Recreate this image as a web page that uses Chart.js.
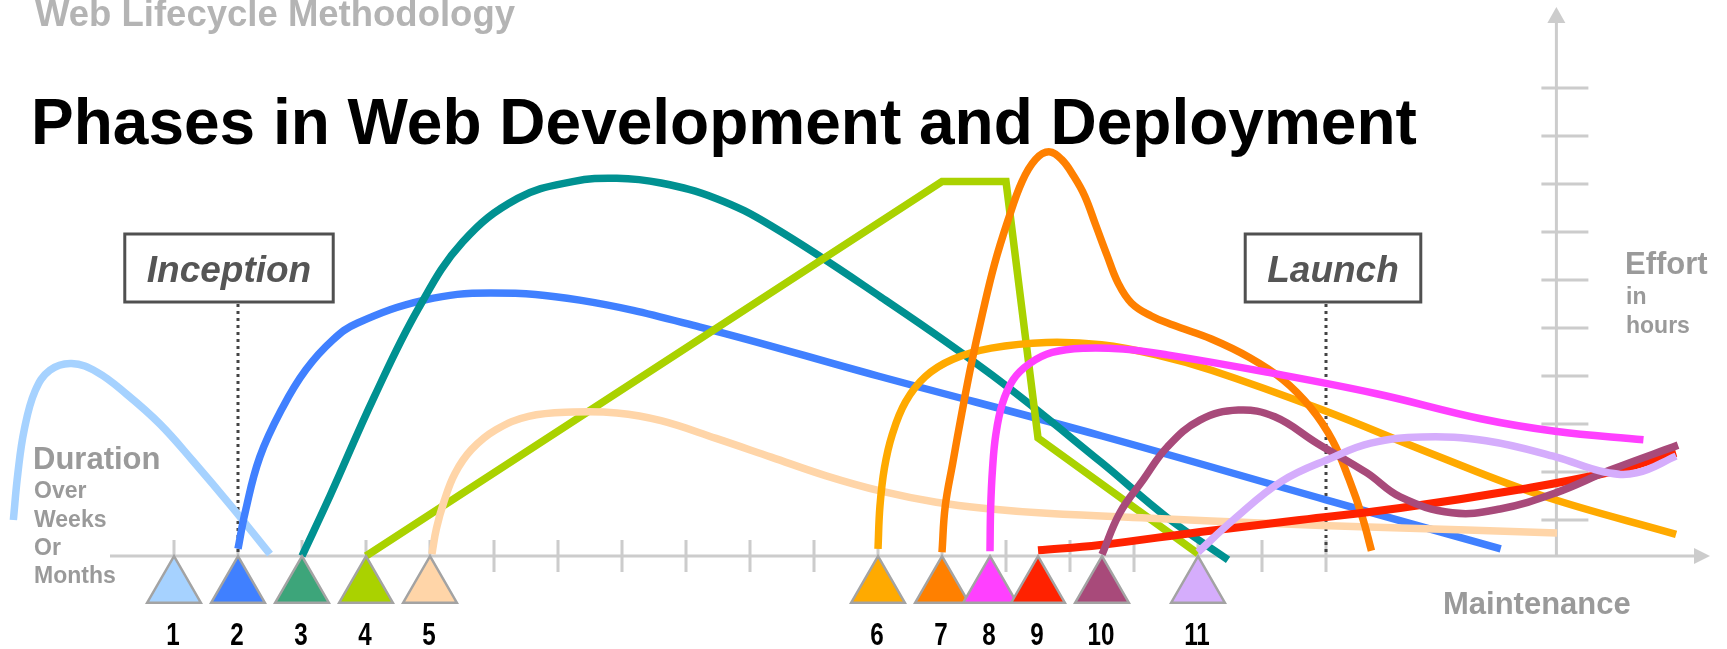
<!DOCTYPE html>
<html>
<head>
<meta charset="utf-8">
<title>Phases in Web Development and Deployment</title>
<script src="https://cdn.jsdelivr.net/npm/chart.js@4.4.0/dist/chart.umd.min.js"></script>
<style>
  html, body { margin: 0; padding: 0; background: #fff; }
  #wrap { position: relative; width: 1727px; height: 649px; overflow: hidden;
          font-family: "Liberation Sans", Arial, sans-serif; font-weight: bold; }
  #chart { position: absolute; left: 0; top: 0; }
  .lbl { position: absolute; line-height: 1; white-space: nowrap; }
  .gray { color: #9a9a9a; }
  .big { font-size: 31px; }
  .small { font-size: 23px; }
</style>
</head>
<body>
<div id="wrap">
  <canvas id="chart" width="1727" height="649"></canvas>
  <div class="lbl" style="left:35px;top:-4px;font-size:36.5px;color:#b4b4b4">Web Lifecycle Methodology</div>
  <div class="lbl" style="left:31px;top:90px;font-size:64px;color:#000">Phases in Web Development and Deployment</div>

  <div class="lbl gray big" style="left:33px;top:443px">Duration</div>
  <div class="lbl gray small" style="left:34px;top:479px">Over</div>
  <div class="lbl gray small" style="left:34px;top:508px">Weeks</div>
  <div class="lbl gray small" style="left:34px;top:536px">Or</div>
  <div class="lbl gray small" style="left:34px;top:564px">Months</div>

  <div class="lbl gray big" style="left:1625px;top:248px">Effort</div>
  <div class="lbl gray small" style="left:1626px;top:285px">in</div>
  <div class="lbl gray small" style="left:1626px;top:314px">hours</div>

  <div class="lbl gray big" style="left:1443px;top:588px">Maintenance</div>
</div>
<script>
// x = time in weeks (one tick per week), y = effort units (x axis at 0)
const phaseLabels = ["1", "2", "3", "4", "5", "6", "7", "8", "9", "10", "11"];
const phaseStart = [0, 1, 2, 3, 4, 11, 12, 12.75, 13.5, 14.5, 16];
const phaseColors = ["#a6d2ff", "#4080ff", "#009191", "#aad200", "#ffd5a8", "#ffaa00",
                     "#ff8000", "#ff40ff", "#ff2200", "#a84a7a", "#d5adfc"];
const markerColors = ["#a6d2ff", "#4080ff", "#3da57a", "#aad200", "#ffd5a8", "#ffaa00",
                      "#ff8000", "#ff40ff", "#ff2200", "#a84a7a", "#d5adfc"];
const xTicks = [0, 1, 2, 3, 4, 5, 6, 7, 8, 9, 10, 11, 12, 13, 14, 15, 16, 17, 18];
const yTicks = [0.75, 1.75, 2.75, 3.75, 4.75, 5.75, 6.75, 7.75, 8.75, 9.75];
const milestoneNames = ["Inception", "Launch"];
const milestoneAt = [1, 18];

// effort curve of each phase, [week, effort]
const phase1 = [[-2.51, 0.75], [-2.44, 1.72], [-2.34, 2.63], [-2.17, 3.44], [-1.94, 3.87], [-1.6, 4.01],
                [-1.2, 3.83], [-0.74, 3.37], [-0.22, 2.75], [0.29, 1.99], [0.9, 1.03], [1.5, 0.04]];
const phase2 = [[1.0, 0.15], [1.11, 0.9], [1.34, 2.06], [1.7, 3.1], [2.06, 3.88], [2.48, 4.5],
                [2.86, 4.85], [3.91, 5.33], [4.95, 5.48], [6.34, 5.33], [8.22, 4.77], [11.0, 3.75],
                [14.5, 2.5], [18.0, 1.17], [20.73, 0.15]];
const phase3 = [[2.0, 0.0], [2.44, 1.26], [3.13, 3.32], [3.82, 5.16], [4.51, 6.54], [5.37, 7.45],
                [6.23, 7.8], [6.92, 7.87], [7.61, 7.77], [8.47, 7.45], [9.33, 6.88], [11.05, 5.39],
                [12.77, 3.78], [14.49, 1.95], [15.52, 0.8], [16.47, -0.08]];
const phase4 = [[3.0, 0.0], [12.0, 7.8], [13.0, 7.8], [13.5, 2.46], [16.0, 0.05]];
const phase5 = [[4.03, 0.04], [4.1, 0.57], [4.22, 1.14], [4.39, 1.72], [4.65, 2.22], [5.03, 2.63],
                [5.54, 2.91], [6.23, 3.0], [6.92, 2.98], [7.61, 2.82], [8.47, 2.45], [9.33, 2.06],
                [10.19, 1.67], [11.05, 1.35], [11.91, 1.12], [12.77, 0.98], [13.63, 0.89],
                [15.35, 0.78], [17.07, 0.68], [18.79, 0.6], [21.61, 0.48]];
const phase6 = [[11.0, 0.15], [11.03, 1.03], [11.1, 1.83], [11.22, 2.52], [11.43, 3.21], [11.74, 3.74],
                [12.17, 4.1], [12.77, 4.33], [13.63, 4.45], [14.49, 4.4], [15.35, 4.19], [16.21, 3.87],
                [17.93, 3.05], [19.65, 2.13], [21.37, 1.26], [23.47, 0.45]];
const phase7 = [[12.0, 0.08], [12.05, 1.03], [12.17, 1.95], [12.31, 2.98], [12.46, 4.01], [12.63, 5.04],
                [12.82, 6.08], [13.03, 6.99], [13.25, 7.8], [13.46, 8.26], [13.67, 8.42], [13.87, 8.26],
                [14.06, 7.91], [14.23, 7.5], [14.4, 6.9], [14.58, 6.26], [14.75, 5.69], [14.96, 5.27],
                [15.27, 5.0], [15.61, 4.81], [16.21, 4.52], [16.81, 4.13], [17.33, 3.67], [17.76, 3.09],
                [18.1, 2.41], [18.36, 1.6], [18.57, 0.8], [18.71, 0.11]];
const phase8 = [[12.75, 0.1], [12.76, 1.0], [12.79, 1.83], [12.84, 2.52], [12.94, 3.16], [13.11, 3.67],
                [13.37, 4.01], [13.72, 4.24], [14.23, 4.33], [14.83, 4.31], [15.52, 4.19], [17.07, 3.83],
                [18.79, 3.38], [20.42, 2.86], [21.58, 2.6], [22.96, 2.42]];
const phase9 = [[13.5, 0.12], [14.47, 0.23], [16.03, 0.5], [17.59, 0.75], [19.16, 1.0], [21.0, 1.38],
                [22.44, 1.75], [23.47, 2.15]];
const phase10 = [[14.5, 0.03], [14.78, 0.9], [15.14, 1.58], [15.52, 2.27], [16.03, 2.83], [16.63, 3.04],
                 [17.2, 2.9], [17.86, 2.35], [18.64, 1.73], [19.16, 1.23], [19.97, 0.9], [20.72, 0.98],
                 [21.58, 1.31], [22.44, 1.79], [23.5, 2.31]];
const phase11 = [[16.0, 0.08], [16.55, 0.75], [17.3, 1.55], [18.1, 2.05], [18.7, 2.35], [19.5, 2.48],
                 [20.5, 2.4], [21.6, 2.06], [22.35, 1.75], [22.85, 1.73], [23.47, 2.08]];
const phases = [phase1, phase2, phase3, phase4, phase5, phase6, phase7, phase8, phase9, phase10, phase11];

const markerLevel = -0.65;   // triangles hang just under the time axis
const timeAxisFrom = -1, timeAxisTo = 24;
const effortAxisAt = 21.6, effortAxisTop = 11.44;

const FONT = "'Liberation Sans', Arial, sans-serif";

const sketch = {
  id: "sketch",
  beforeDatasetsDraw(chart) {
    const { ctx, scales: { x, y } } = chart;
    const y0 = y.getPixelForValue(0);
    ctx.save();

    // time axis
    ctx.strokeStyle = "#cccccc";
    ctx.fillStyle = "#cccccc";
    ctx.lineWidth = 3;
    const left = x.getPixelForValue(timeAxisFrom);
    const right = x.getPixelForValue(timeAxisTo);
    ctx.beginPath();
    ctx.moveTo(left, y0);
    ctx.lineTo(right - 14, y0);
    xTicks.forEach(t => {
      const px = x.getPixelForValue(t);
      ctx.moveTo(px, y0 - 16);
      ctx.lineTo(px, y0 + 16);
    });
    ctx.stroke();
    ctx.beginPath();
    ctx.moveTo(right, y0);
    ctx.lineTo(right - 16, y0 - 8);
    ctx.lineTo(right - 16, y0 + 8);
    ctx.closePath();
    ctx.fill();

    // effort axis
    const ax = x.getPixelForValue(effortAxisAt);
    const top = y.getPixelForValue(effortAxisTop);
    ctx.beginPath();
    ctx.moveTo(ax, y0);
    ctx.lineTo(ax, top + 14);
    yTicks.forEach(t => {
      const py = y.getPixelForValue(t);
      ctx.moveTo(ax - 15, py);
      ctx.lineTo(ax + 32, py);
    });
    ctx.stroke();
    ctx.beginPath();
    ctx.moveTo(ax, top);
    ctx.lineTo(ax - 9, top + 16);
    ctx.lineTo(ax + 9, top + 16);
    ctx.closePath();
    ctx.fill();

    // milestone boxes with dotted leaders
    const boxShift = [-9, 7];
    ctx.font = "italic bold 37px " + FONT;
    ctx.textAlign = "center";
    ctx.textBaseline = "alphabetic";
    milestoneNames.forEach((name, i) => {
      const px = x.getPixelForValue(milestoneAt[i]);
      const cx = px + boxShift[i];
      const w = ctx.measureText(name).width + 44;
      ctx.setLineDash([3, 4]);
      ctx.strokeStyle = "#444444";
      ctx.lineWidth = 3;
      ctx.beginPath();
      ctx.moveTo(px, 304);
      ctx.lineTo(px, y0 - 3);
      ctx.stroke();
      ctx.setLineDash([]);
      ctx.strokeStyle = "#505050";
      ctx.strokeRect(cx - w / 2, 234, w, 68);
      ctx.fillStyle = "#555555";
      ctx.fillText(name, cx, 282);
    });
    ctx.restore();
  },
  afterDatasetsDraw(chart) {
    const { ctx, scales: { x } } = chart;
    ctx.save();
    ctx.font = "bold 31px " + FONT;
    ctx.fillStyle = "#000";
    ctx.textAlign = "center";
    phaseStart.forEach((s, i) => {
      // narrow digits, like the original
      ctx.save();
      ctx.translate(x.getPixelForValue(s) - 1, 645);
      ctx.scale(0.78, 1);
      ctx.fillText(phaseLabels[i], 0, 0);
      ctx.restore();
    });
    ctx.restore();
  }
};

const datasets = phases.map((pts, i) => ({
  label: "Phase " + phaseLabels[i],
  data: pts.map(([wk, ef]) => ({ x: wk, y: ef })),
  borderColor: phaseColors[i],
  borderWidth: i === 8 ? 8 : 7.5,
  showLine: true,
  pointRadius: 0,
  tension: i === 3 ? 0 : 0.4,
  fill: false,
  order: phases.length - i
}));
datasets.push({
  label: "Phase start",
  data: phaseStart.map(s => ({ x: s, y: markerLevel })),
  pointStyle: "triangle",
  pointRadius: 31,
  pointBackgroundColor: markerColors,
  pointBorderColor: "#a3a3a3",
  pointBorderWidth: 2.5,
  showLine: false,
  order: 0
});

new Chart(document.getElementById("chart"), {
  type: "scatter",
  data: { datasets },
  options: {
    responsive: false,
    animation: false,
    events: [],
    layout: { padding: 0, autoPadding: false },
    plugins: { legend: { display: false }, tooltip: { enabled: false } },
    scales: {
      x: { type: "linear", min: -174 / 64, max: (1727 - 174) / 64, display: false },
      y: { type: "linear", min: -93 / 48, max: 556 / 48, display: false }
    }
  },
  plugins: [sketch]
});
</script>
</body>
</html>
